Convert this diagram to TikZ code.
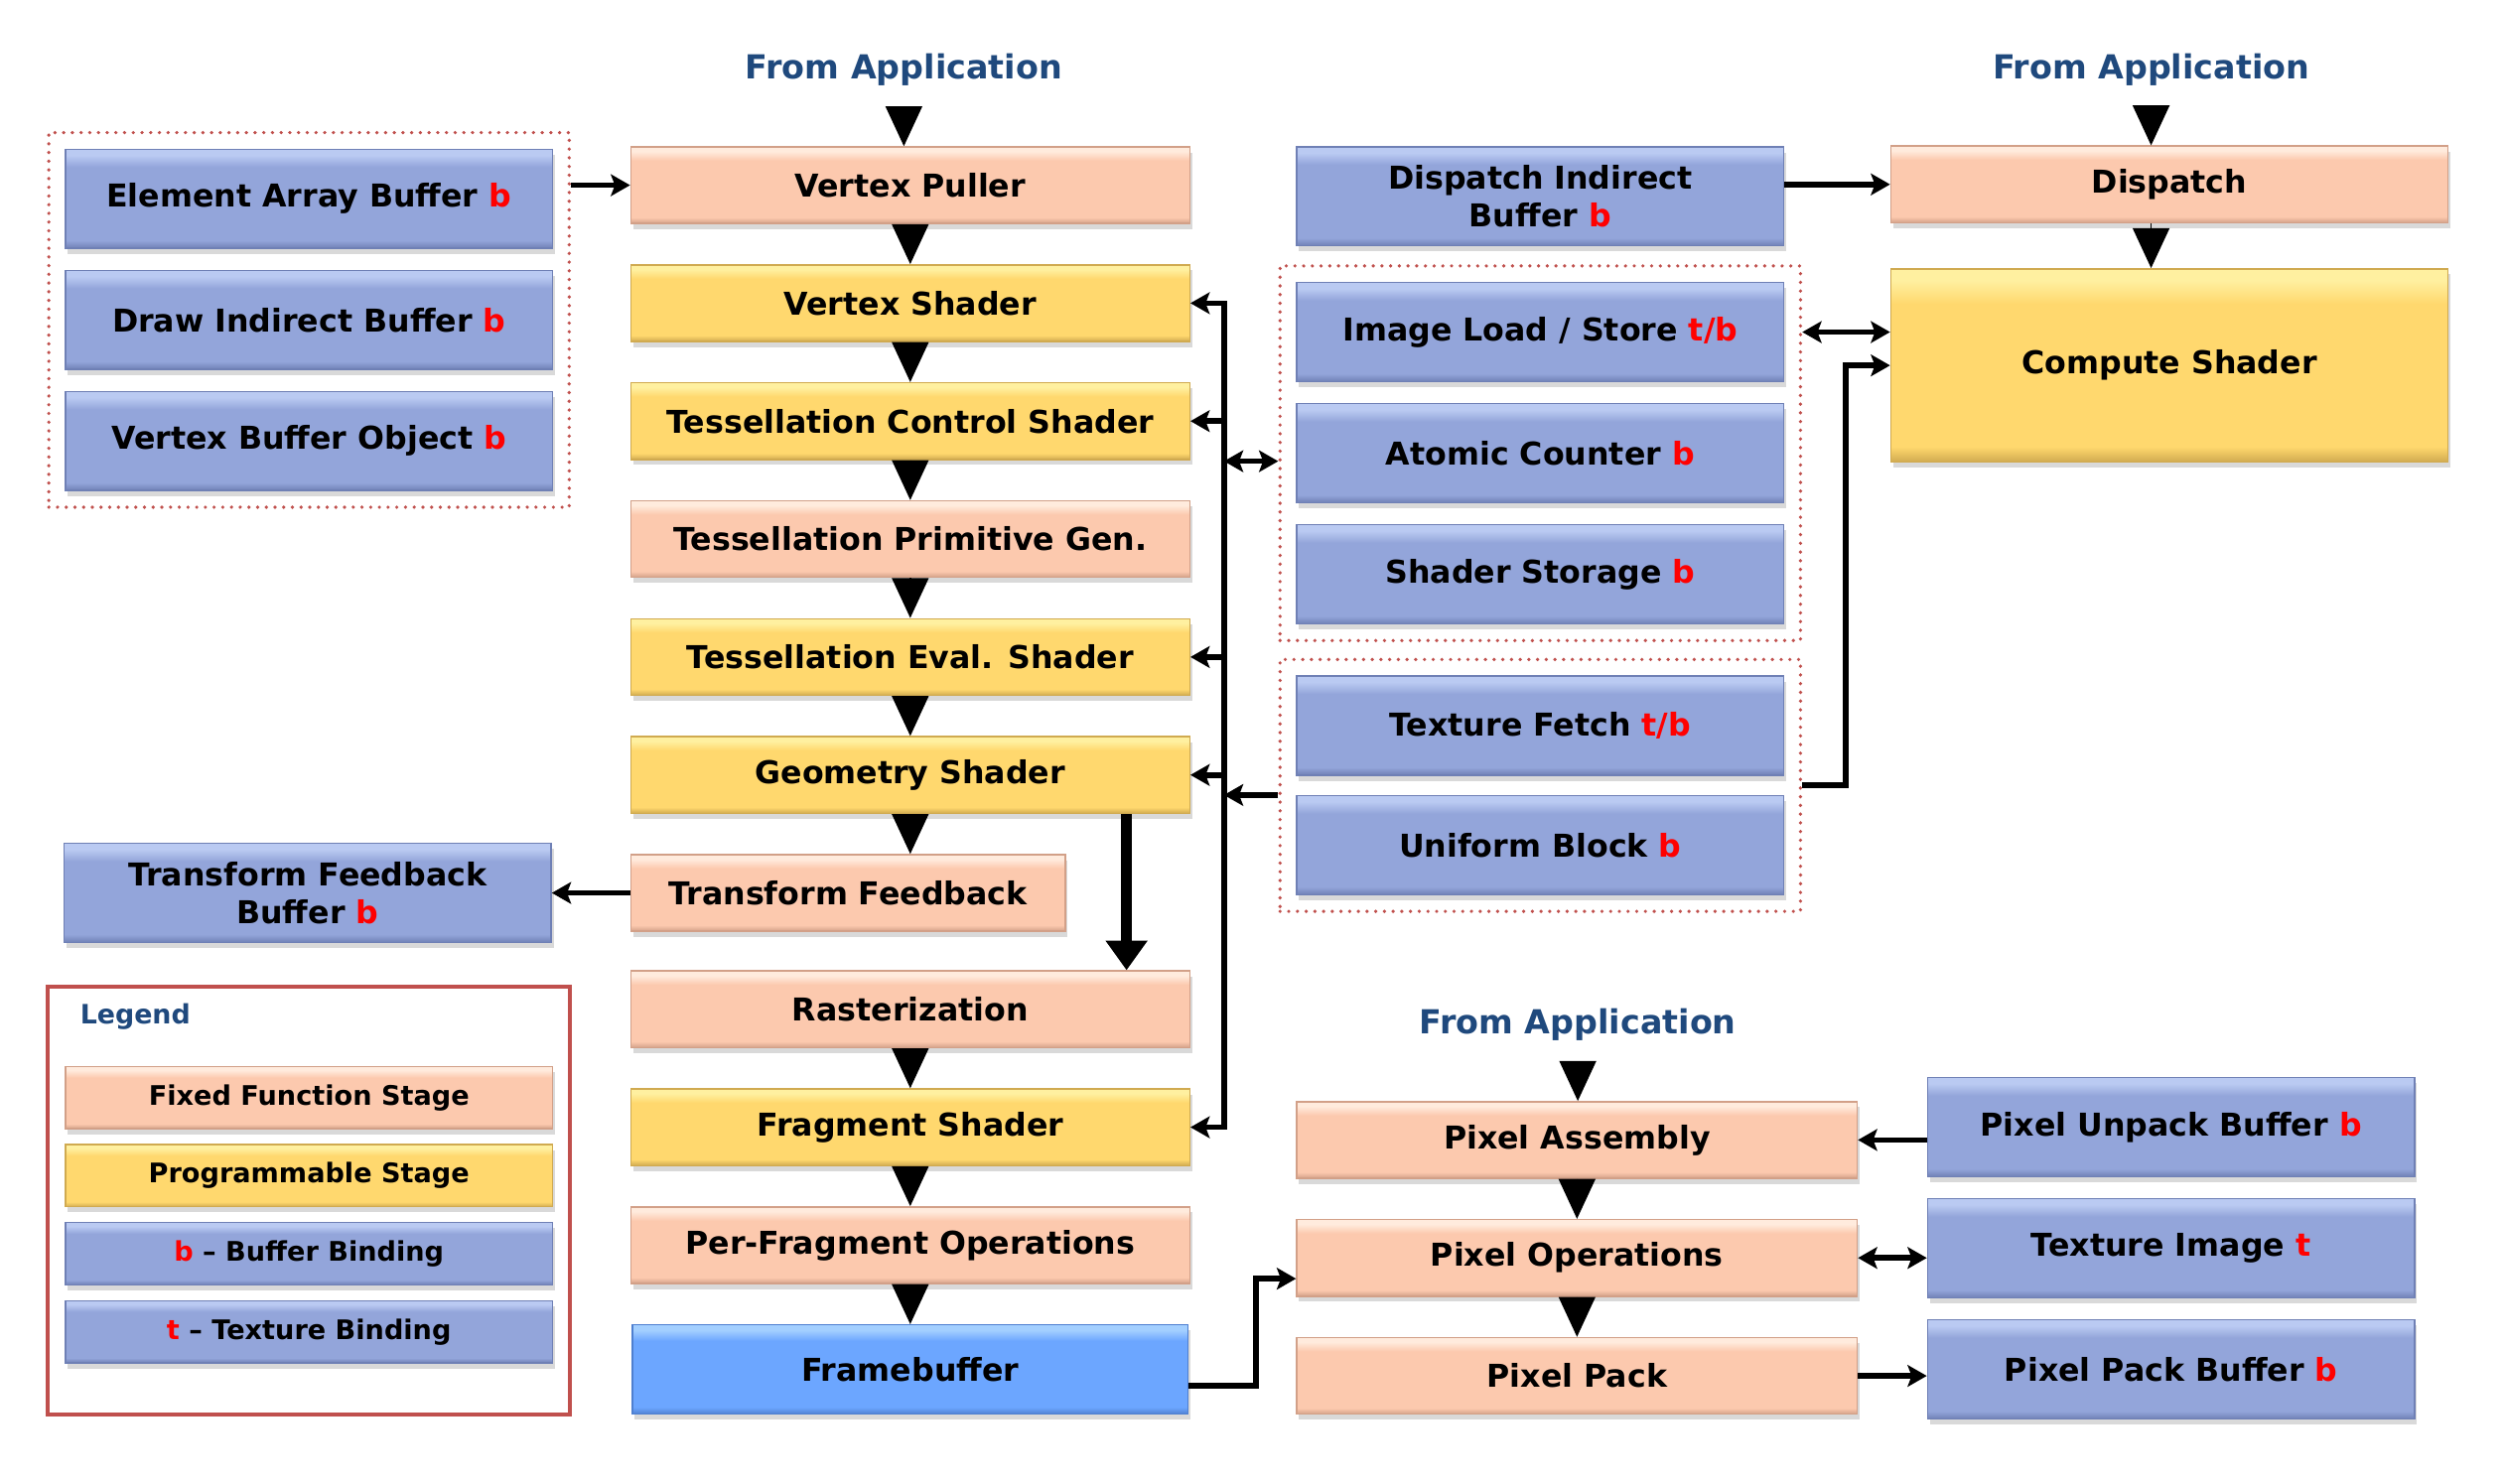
\documentclass[tikz,border=0pt]{standalone}
\usepackage{fontspec}
\setmainfont{DejaVu Sans}
\usetikzlibrary{arrows.meta, positioning, fit, shadows, calc}

\definecolor{fixbase}{HTML}{FCC9AE}
\definecolor{fixlight}{HTML}{FFEBDD}
\definecolor{fixdark}{HTML}{D2A088}
\definecolor{progbase}{HTML}{FFD86E}
\definecolor{proglight}{HTML}{FFF0A0}
\definecolor{progdark}{HTML}{D0AA50}
\definecolor{bufbase}{HTML}{93A5DA}
\definecolor{buflight}{HTML}{BACAF2}
\definecolor{bufdark}{HTML}{6F80B5}
\definecolor{fbbase}{HTML}{6CA6FF}
\definecolor{fblight}{HTML}{A3CFFF}
\definecolor{fbdark}{HTML}{4E7FD0}
\definecolor{appblue}{HTML}{1F497D}
\definecolor{grpred}{HTML}{C0504D}

% bevel look: dark strip at the bottom, light strip at the top
\pgfdeclareverticalshading{fixshade}{100bp}{color(0bp)=(fixdark); color(25bp)=(fixdark); color(29bp)=(fixbase); color(66bp)=(fixbase); color(72bp)=(fixlight); color(100bp)=(fixlight)}
\pgfdeclareverticalshading{progshade}{100bp}{color(0bp)=(progdark); color(25bp)=(progdark); color(29bp)=(progbase); color(66bp)=(progbase); color(72bp)=(proglight); color(100bp)=(proglight)}
\pgfdeclareverticalshading{bufshade}{100bp}{color(0bp)=(bufdark); color(25bp)=(bufdark); color(29bp)=(bufbase); color(66bp)=(bufbase); color(72bp)=(buflight); color(100bp)=(buflight)}
\pgfdeclareverticalshading{fbshade}{100bp}{color(0bp)=(fbdark); color(25bp)=(fbdark); color(29bp)=(fbbase); color(66bp)=(fbbase); color(72bp)=(fblight); color(100bp)=(fblight)}

\newcommand{\bnd}[1]{\textcolor{red}{#1}}

\begin{document}
\begin{tikzpicture}[
    >={Stealth[length=0.24cm, width=0.27cm, inset=0.05cm]},
    stagebox/.style={minimum height=0.96cm, inner sep=0pt, align=center,
        font={\fontsize{11.2}{13.6}\selectfont\bfseries}, line width=0.5pt,
        drop shadow={shadow xshift=0.03cm, shadow yshift=-0.07cm, opacity=0.3}},
    fixedstage/.style={stagebox, minimum width=7cm, shading=fixshade, draw=fixdark},
    progstage/.style={stagebox, minimum width=7cm, shading=progshade, draw=progdark},
    bufstage/.style={stagebox, minimum width=6.1cm, minimum height=1.24cm, shading=bufshade, draw=bufdark},
    fbstage/.style={stagebox, minimum width=6.96cm, minimum height=1.12cm, shading=fbshade, draw=fbdark},
    legitem/.style={minimum width=6.1cm, minimum height=0.78cm, font={\fontsize{9.6}{11}\selectfont\bfseries}},
    applabel/.style={text=appblue, font={\fontsize{11.8}{14}\selectfont\bfseries}},
    bindgroup/.style={draw=grpred, line width=1.3pt, dash pattern=on 0pt off 3.1pt, line cap=round, inner sep=0.2cm},
    conn/.style={line width=2pt},
    flow/.style={line width=0.5pt, -{Triangle[length=0.5cm, width=0.46cm]}},
    bigflow/.style={line width=4pt, -{Triangle[length=0.37cm, width=0.5cm]}}]

    \useasboundingbox (0,0) rectangle (31.36,18.58);

    % vertex pipeline
    \node[applabel] (app1) at (11.32,17.70) {From Application};
    \node[fixedstage] (vp) at (11.4,16.26) {Vertex Puller};
    \node[progstage, below=0.5cm of vp] (vs) {Vertex Shader};
    \node[progstage, below=0.5cm of vs] (tcs) {Tessellation Control Shader};
    \node[fixedstage, below=0.5cm of tcs] (tpg) {Tessellation Primitive Gen.};
    \node[progstage, below=0.5cm of tpg] (tes) {Tessellation Eval. Shader};
    \node[progstage, below=0.5cm of tes] (gs) {Geometry Shader};
    \node[fixedstage, minimum width=5.44cm, below right=0.5cm and 0cm of gs.south west] (tf) {Transform Feedback};
    \coordinate (rasttop) at (gs.south |- tf.south);
    \node[fixedstage, below=0.48cm of rasttop] (rast) {Rasterization};
    \node[progstage, below=0.5cm of rast] (fs) {Fragment Shader};
    \node[fixedstage, below=0.5cm of fs] (pfo) {Per-Fragment Operations};
    \node[fbstage, below=0.5cm of pfo] (fb) {Framebuffer};

    % buffers on the left
    \node[bufstage] (eab) at (3.87,16.09) {Element Array Buffer \bnd{b}};
    \node[bufstage, below=0.26cm of eab] (dib) {Draw Indirect Buffer \bnd{b}};
    \node[bufstage, below=0.26cm of dib] (vbo) {Vertex Buffer Object \bnd{b}};
    \node[bindgroup, fit=(eab)(vbo)] (grp0) {};
    \node[bufstage, left=0.98cm of tf] (tfb) {Transform Feedback\\Buffer \bnd{b}};

    % legend
    \node[draw=grpred, line width=1.3pt, minimum width=6.54cm, minimum height=5.36cm] (legend) at (3.87,3.54) {};
    \node[applabel, anchor=west, inner sep=0pt, font={\fontsize{9.5}{11}\selectfont\bfseries}] (legtitle) at ([xshift=0.42cm, yshift=-0.4cm]legend.north west) {Legend};
    \node[fixedstage, legitem] (legfix) at (3.87,4.83) {Fixed Function Stage};
    \node[progstage, legitem, below=0.18cm of legfix] (legprog) {Programmable Stage};
    \node[bufstage, legitem, below=0.18cm of legprog] (legbuf) {\bnd{b} – Buffer Binding};
    \node[bufstage, legitem, below=0.18cm of legbuf] (legtex) {\bnd{t} – Texture Binding};

    % shader resources
    \node[bufstage] (dispind) at (19.29,16.12) {Dispatch Indirect\\Buffer \bnd{b}};
    \node[bufstage] (imgls) at (19.29,14.42) {Image Load / Store \bnd{t/b}};
    \node[bufstage, below=0.26cm of imgls] (atomic) {Atomic Counter \bnd{b}};
    \node[bufstage, below=0.26cm of atomic] (ssbo) {Shader Storage \bnd{b}};
    \node[bindgroup, fit=(imgls)(ssbo)] (grp1) {};
    \node[bufstage] (texfetch) at (19.29,9.49) {Texture Fetch \bnd{t/b}};
    \node[bufstage, below=0.24cm of texfetch] (ubo) {Uniform Block \bnd{b}};
    \node[bindgroup, fit=(texfetch)(ubo)] (grp2) {};

    % compute
    \node[applabel] (app2) at (26.94,17.70) {From Application};
    \node[fixedstage, minimum width=6.98cm] (disp) at (27.17,16.27) {Dispatch};
    \node[progstage, minimum width=6.98cm, minimum height=2.42cm, below=0.56cm of disp] (cs) {Compute Shader};

    % pixel path
    \node[applabel] (app3) at (19.76,5.74) {From Application};
    \node[fixedstage, minimum width=7.02cm] (pa) at (19.75,4.30) {Pixel Assembly};
    \node[fixedstage, minimum width=7.02cm, below=0.5cm of pa] (po) {Pixel Operations};
    \node[fixedstage, minimum width=7.02cm, below=0.5cm of po] (pp) {Pixel Pack};
    \node[bufstage] (pub) at (27.19,4.46) {Pixel Unpack Buffer \bnd{b}};
    \node[bufstage, below=0.26cm of pub] (teximg) {Texture Image \bnd{t}};
    \node[bufstage, below=0.26cm of teximg] (ppb) {Pixel Pack Buffer \bnd{b}};

    % stage to stage
    \draw[flow, shorten <=0.18cm] (app1.south) -- (app1.south |- vp.north);
    \draw[flow] (vp) -- (vs);
    \draw[flow] (vs) -- (tcs);
    \draw[flow] (tcs) -- (tpg);
    \draw[flow] (tpg) -- (tes);
    \draw[flow] (tes) -- (gs);
    \draw[flow] (gs.south) -- (gs.south |- tf.north);
    \draw[bigflow] ([xshift=-0.8cm]gs.south east) -- ([xshift=-0.8cm]rast.north east);
    \draw[flow] (rast) -- (fs);
    \draw[flow] (fs) -- (pfo);
    \draw[flow] (pfo) -- (fb);
    \draw[flow, shorten <=0.18cm] (app2.south) -- (app2.south |- disp.north);
    \draw[flow] (app2 |- disp.south) -- (app2 |- cs.north);
    \draw[flow, shorten <=0.18cm] (app3.south) -- (app3.south |- pa.north);
    \draw[flow] (pa) -- (po);
    \draw[flow] (po) -- (pp);

    % bindings
    \coordinate (busmid) at ([xshift=0.42cm]tpg.east);
    \coordinate (grp1in) at ([yshift=-0.1cm]atomic.west);
    \draw[conn, ->] (vp.west -| grp0.east) -- (vp.west);
    \draw[conn, ->] (tf.west) -- (tfb.east);
    \draw[conn, <->] (vs.east) -| (busmid) |- (fs.east);
    \foreach \s in {tcs, tes, gs}
        \draw[conn, ->] (\s.east -| busmid) -- (\s.east);
    \draw[conn, <->] (busmid |- grp1in) -- (grp1.west |- grp1in);
    \draw[conn, ->] (grp2.west |- ubo.north) -- (busmid |- ubo.north);
    \draw[conn, ->] (disp.west -| dispind.east) -- (disp.west);
    \draw[conn, <->] (grp1.east |- imgls) -- (cs.west |- imgls);
    \draw[conn, ->] (grp2.east) -- ++(0.54,0) |- (cs.west);
    \draw[conn, ->] ([yshift=-0.2cm]fb.east) -- ++(0.84,0) |- ([yshift=-0.26cm]po.west);
    \draw[conn, ->] (pa.east -| pub.west) -- (pa.east);
    \draw[conn, <->] (po.east) -- (po.east -| teximg.west);
    \draw[conn, ->] (pp.east) -- (pp.east -| ppb.west);
\end{tikzpicture}
\end{document}
